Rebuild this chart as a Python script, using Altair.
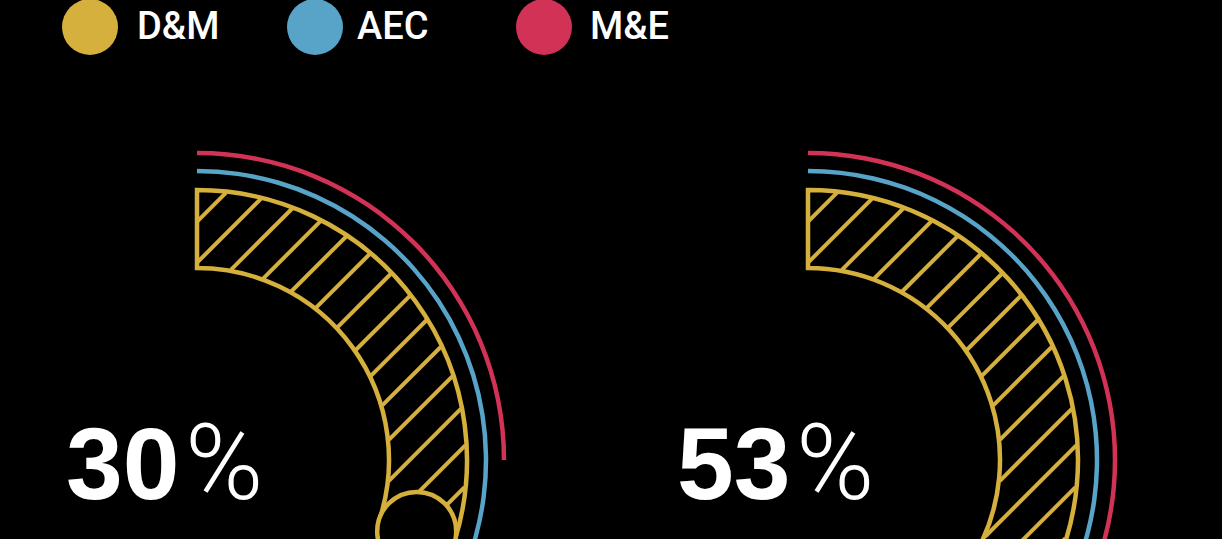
import altair as alt
import numpy as np
import pandas as pd

# ---------------- data ----------------
panels = ["Panel 1", "Panel 2"]
dm_pct = [30, 53]      # D&M (hatched ring, labelled)
aec_pct = [36, 58]     # AEC (blue arc; its end lies below the visible area - estimated)
me_pct = [25, 47]      # M&E (red arc; right one ends below the visible area - estimated)
series = ["D&M", "AEC", "M&E"]
series_colors = ["#D6B03C", "#58A4C9", "#D23255"]

# ---------------- layout ----------------
W, H = 1222, 539
GOLD, BLUE, RED = series_colors
centers_x = [197, 808]
center_y = 460
R_IN, R_OUT = 192, 270
R_MID = (R_IN + R_OUT) / 2
R_AEC, R_ME = 289, 307
LINE_W = 4.5
HATCH_GAP = 41.0
HATCH_PHASE = -238.3
legend_cx = [90, 315, 544]
legend_tx = [137, 357, 590]
legend_y = 27

xs = alt.Scale(domain=[0, W], nice=False, zero=False)
ys = alt.Scale(domain=[0, H], nice=False, zero=False, reverse=True)
ts = alt.Scale(domain=[0, 100], range=[0, 2 * np.pi])

panel_df = pd.DataFrame({
    "panel": panels,
    "dm": dm_pct,
    "aec": aec_pct,
    "me": me_pct,
    "cx": centers_x,
    "cy": [center_y] * len(panels),
    "start": [0] * len(panels),
})
panel_df["num"] = panel_df["dm"].astype(str)
panel_df["num_x"] = panel_df["cx"] - 131
panel_df["pct_x"] = panel_df["cx"] - 12
panel_df["txt_y"] = panel_df["cy"] + 39
ang = panel_df["dm"] / 100 * 2 * np.pi
panel_df["cap_x"] = panel_df["cx"] + R_MID * np.sin(ang)
panel_df["cap_y"] = panel_df["cy"] - R_MID * np.cos(ang)


def hatch_segments(cx, cy, pct):
    theta_max = pct / 100 * 2 * np.pi
    out = []
    t = np.arange(-R_OUT - 5, R_OUT + 5, 0.2)
    n_lo = int(np.floor((-R_OUT * 1.5 - HATCH_PHASE) / HATCH_GAP))
    n_hi = int(np.ceil((R_OUT * 1.5 - HATCH_PHASE) / HATCH_GAP))
    for n in range(n_lo, n_hi + 1):
        k = HATCH_PHASE + n * HATCH_GAP
        dx = k / 2 + t / np.sqrt(2)
        dy = k / 2 - t / np.sqrt(2)
        r = np.hypot(dx, dy)
        phi = np.mod(np.arctan2(dx, -dy), 2 * np.pi)
        inside = (r >= R_IN + 1) & (r <= R_OUT - 1) & (phi <= theta_max)
        m = np.concatenate([[0], inside.astype(int), [0]])
        d = np.diff(m)
        starts = np.where(d == 1)[0]
        ends = np.where(d == -1)[0] - 1
        for s, e in zip(starts, ends):
            if e <= s:
                continue
            out.append({"x": cx + dx[s], "y": cy + dy[s], "x2": cx + dx[e], "y2": cy + dy[e]})
    return out


segs = []
for cx, cy, p in zip(panel_df["cx"], panel_df["cy"], panel_df["dm"]):
    segs += hatch_segments(cx, cy, p)
hatch_df = pd.DataFrame(segs)

legend_df = pd.DataFrame({
    "series": series,
    "color": series_colors,
    "cx": legend_cx,
    "tx": legend_tx,
    "y": [legend_y] * 3,
})

# ---------------- marks ----------------
base = alt.Chart(panel_df)
X = lambda f: alt.X(f, scale=xs, axis=None)
Y = lambda f: alt.Y(f, scale=ys, axis=None)

hatch = alt.Chart(hatch_df).mark_rule(color=GOLD, strokeWidth=4).encode(
    x=X("x:Q"), y=Y("y:Q"), x2="x2:Q", y2="y2:Q"
)

gold_ring = base.mark_arc(
    radius=R_OUT, radius2=R_IN, stroke=GOLD, strokeWidth=LINE_W,
    fill="black", fillOpacity=0, strokeJoin="miter"
).encode(
    x=X("cx:Q"), y=Y("cy:Q"),
    theta=alt.Theta("start:Q", scale=ts, stack=False), theta2="dm:Q",
)

aec_arc = base.mark_arc(
    radius=R_AEC + LINE_W / 2, radius2=R_AEC - LINE_W / 2, color=BLUE
).encode(
    x=X("cx:Q"), y=Y("cy:Q"),
    theta=alt.Theta("start:Q", scale=ts, stack=False), theta2="aec:Q",
)

me_arc = base.mark_arc(
    radius=R_ME + LINE_W / 2, radius2=R_ME - LINE_W / 2, color=RED
).encode(
    x=X("cx:Q"), y=Y("cy:Q"),
    theta=alt.Theta("start:Q", scale=ts, stack=False), theta2="me:Q",
)

cap_d = R_OUT - R_IN + 1
cap = base.mark_point(
    shape="circle", fill="black", fillOpacity=1, stroke=GOLD, strokeWidth=LINE_W,
    strokeOpacity=1, size=float(cap_d ** 2), opacity=1
).encode(x=X("cap_x:Q"), y=Y("cap_y:Q"))

num_text = base.mark_text(
    align="left", baseline="alphabetic", font="Liberation Sans", fontWeight="bold",
    fontSize=102, color="white"
).encode(x=X("num_x:Q"), y=Y("txt_y:Q"), text="num:N")

pct_text = base.mark_text(
    align="left", baseline="alphabetic", font="Roboto", fontWeight=300,
    fontSize=106, color="white", text="%"
).encode(x=X("pct_x:Q"), y=Y("txt_y:Q"))

leg = alt.Chart(legend_df)
leg_dots = leg.mark_circle(size=float(56 ** 2), opacity=1).encode(
    x=X("cx:Q"), y=Y("y:Q"),
    color=alt.Color("color:N", scale=None),
)
leg_text = leg.mark_text(
    align="left", baseline="middle", font="Roboto", fontWeight=500,
    fontSize=38, color="white", dy=1
).encode(x=X("tx:Q"), y=Y("y:Q"), text="series:N")

chart = alt.layer(
    hatch, gold_ring, aec_arc, me_arc, cap, num_text, pct_text, leg_dots, leg_text
).properties(
    width=W, height=H, background="black",
    autosize=alt.AutoSizeParams(type="none"), padding=0,
).configure_view(stroke=None, fill="black")

chart.save("out.html", embed_options={"renderer": "svg", "actions": False})
